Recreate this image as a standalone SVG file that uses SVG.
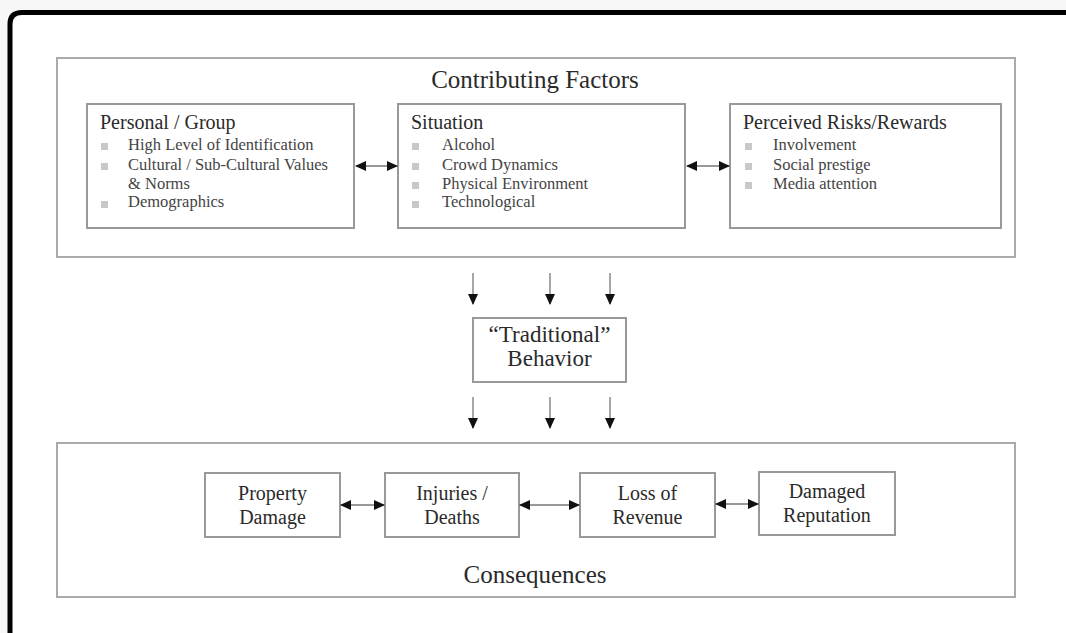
<svg xmlns="http://www.w3.org/2000/svg" width="1066" height="633" viewBox="0 0 1066 633">
<style>
  .frame{fill:#fff;stroke:#aaa;stroke-width:2}
  .box{fill:#fff;stroke:#999;stroke-width:2}
  .t{font-family:"Liberation Serif","Times New Roman",serif;fill:#2a2a2a}
  .title{font-size:25px;text-anchor:middle}
  .head{font-size:20px}
  .item{font-size:16.5px;fill:#444}
  .lbl{font-size:20px;text-anchor:middle}
  .big{font-size:23px;text-anchor:middle}
  .bul{fill:#c8c8c8}
  .conn{stroke:#777;stroke-width:1.3;fill:none}
</style>
<defs>
  <marker id="ah" markerWidth="11" markerHeight="11" refX="10" refY="5.5" orient="auto-start-reverse" markerUnits="userSpaceOnUse">
    <path d="M0,0.5 L11,5.5 L0,10.5 Z" fill="#111"/>
  </marker>
</defs>
<rect x="0" y="0" width="1066" height="633" fill="#f7f7f7"/>
<path d="M10,650 L10,24 Q10,12.5 22,12.5 L1080,12.5 L1080,650 Z" fill="#fff" stroke="#000" stroke-width="5"/>

<g id="contributing-factors">
  <rect class="frame" x="57" y="58" width="958" height="199"/>
  <text class="t title" x="535" y="88">Contributing Factors</text>
</g>

<g id="personal-group">
  <rect class="box" x="87" y="104" width="267" height="124"/>
  <text class="t head" x="100" y="129">Personal / Group</text>
  <rect class="bul" x="101" y="143" width="7" height="7"/>
  <rect class="bul" x="101" y="163" width="7" height="7"/>
  <rect class="bul" x="101" y="201" width="7" height="7"/>
  <text class="t item" x="128" y="150">High Level of Identification</text>
  <text class="t item" x="128" y="170">Cultural / Sub-Cultural Values</text>
  <text class="t item" x="128" y="189">&amp; Norms</text>
  <text class="t item" x="128" y="207">Demographics</text>
</g>

<g id="situation">
  <rect class="box" x="398" y="104" width="287" height="124"/>
  <text class="t head" x="411" y="129">Situation</text>
  <rect class="bul" x="412" y="143" width="7" height="7"/>
  <rect class="bul" x="412" y="163" width="7" height="7"/>
  <rect class="bul" x="412" y="182" width="7" height="7"/>
  <rect class="bul" x="412" y="201" width="7" height="7"/>
  <text class="t item" x="442" y="150">Alcohol</text>
  <text class="t item" x="442" y="170">Crowd Dynamics</text>
  <text class="t item" x="442" y="189">Physical Environment</text>
  <text class="t item" x="442" y="207">Technological</text>
</g>

<g id="perceived-risks">
  <rect class="box" x="730" y="104" width="271" height="124"/>
  <text class="t head" x="743" y="129">Perceived Risks/Rewards</text>
  <rect class="bul" x="745" y="143" width="7" height="7"/>
  <rect class="bul" x="745" y="163" width="7" height="7"/>
  <rect class="bul" x="745" y="182" width="7" height="7"/>
  <text class="t item" x="773" y="150">Involvement</text>
  <text class="t item" x="773" y="170">Social prestige</text>
  <text class="t item" x="773" y="189">Media attention</text>
</g>

<g id="traditional-behavior">
  <rect class="box" x="473" y="318" width="153" height="64"/>
  <text class="t big" x="549.5" y="342">“Traditional”</text>
  <text class="t big" x="549.5" y="366">Behavior</text>
</g>

<g id="consequences">
  <rect class="frame" x="57" y="443" width="958" height="154"/>
  <text class="t title" x="535" y="583">Consequences</text>
</g>

<g id="property-damage">
  <rect class="box" x="205" y="473" width="135" height="64"/>
  <text class="t lbl" x="272.5" y="500">Property</text>
  <text class="t lbl" x="272.5" y="524">Damage</text>
</g>
<g id="injuries-deaths">
  <rect class="box" x="385" y="473" width="134" height="64"/>
  <text class="t lbl" x="452" y="500">Injuries /</text>
  <text class="t lbl" x="452" y="524">Deaths</text>
</g>
<g id="loss-of-revenue">
  <rect class="box" x="580" y="473" width="135" height="64"/>
  <text class="t lbl" x="647.5" y="500">Loss of</text>
  <text class="t lbl" x="647.5" y="524">Revenue</text>
</g>
<g id="damaged-reputation">
  <rect class="box" x="759" y="472" width="136" height="63"/>
  <text class="t lbl" x="827" y="498">Damaged</text>
  <text class="t lbl" x="827" y="522">Reputation</text>
</g>

<g id="connectors">
  <line class="conn" x1="356" y1="166" x2="397" y2="166" marker-start="url(#ah)" marker-end="url(#ah)"/>
  <line class="conn" x1="687" y1="166" x2="729" y2="166" marker-start="url(#ah)" marker-end="url(#ah)"/>
  <line class="conn" x1="473" y1="273" x2="473" y2="304" marker-end="url(#ah)"/>
  <line class="conn" x1="550" y1="273" x2="550" y2="304" marker-end="url(#ah)"/>
  <line class="conn" x1="610" y1="273" x2="610" y2="304" marker-end="url(#ah)"/>
  <line class="conn" x1="473" y1="397" x2="473" y2="428" marker-end="url(#ah)"/>
  <line class="conn" x1="550" y1="397" x2="550" y2="428" marker-end="url(#ah)"/>
  <line class="conn" x1="610" y1="397" x2="610" y2="428" marker-end="url(#ah)"/>
  <line class="conn" x1="341" y1="505" x2="384" y2="505" marker-start="url(#ah)" marker-end="url(#ah)"/>
  <line class="conn" x1="520" y1="505" x2="579" y2="505" marker-start="url(#ah)" marker-end="url(#ah)"/>
  <line class="conn" x1="716" y1="504" x2="758" y2="504" marker-start="url(#ah)" marker-end="url(#ah)"/>
</g>
</svg>
